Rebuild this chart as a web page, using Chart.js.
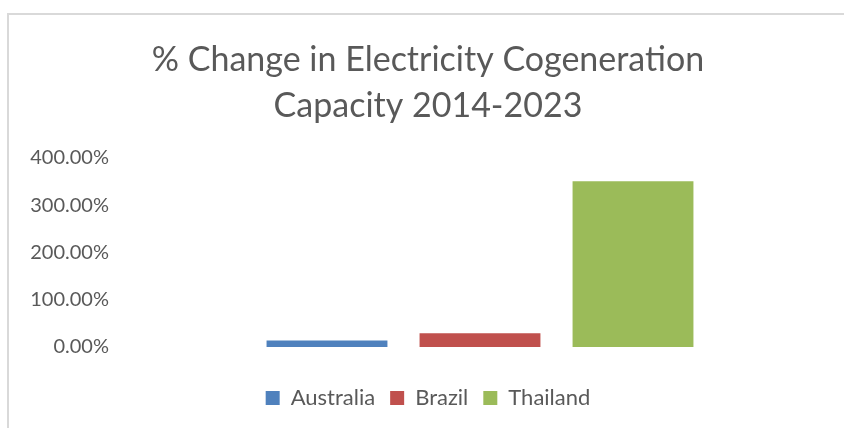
<!DOCTYPE html>
<html>
<head>
<meta charset="utf-8">
<script src="https://cdn.jsdelivr.net/npm/chart.js@4.4.0/dist/chart.umd.min.js"></script>
<style>
  html, body { margin: 0; padding: 0; background: #fff; overflow: hidden; }
  #wrap { position: relative; width: 844px; height: 428px; }
  #frame { position: absolute; left: 7px; top: 13px; width: 860px; height: 440px; border: 2px solid #d9d9d9; box-sizing: border-box; }
  canvas { position: absolute; left: 0; top: 0; }
</style>
</head>
<body>
<div id="wrap">
  <div id="frame"></div>
  <canvas id="chart" width="844" height="428"></canvas>
</div>
<script>
// values
const countries = ["Australia", "Brazil", "Thailand"];
const pctChange = [14, 29, 351];
const colours = ["#4f81bd", "#c0504d", "#9bbb59"];
const yTicks = [0, 100, 200, 300, 400];

const textColour = "#595959";
const fontName = "Lato";

const datasets = countries.map((c, i) => ({
  label: c,
  data: [pctChange[i]],
  backgroundColor: colours[i],
  borderWidth: 0,
  categoryPercentage: 0.634,
  barPercentage: 0.79
}));

new Chart(document.getElementById("chart"), {
  type: "bar",
  data: { labels: [""], datasets: datasets },
  options: {
    responsive: false,
    animation: false,
    layout: { padding: { left: 14, right: 2, top: 0, bottom: 9 } },
    plugins: {
      title: {
        display: true,
        text: ["% Change in Electricity Cogeneration", "Capacity 2014-2023"],
        color: textColour,
        font: { family: fontName, size: 34, weight: "normal", lineHeight: 1.353 },
        padding: { top: 37, bottom: 29 }
      },
      legend: {
        position: "bottom",
        labels: {
          color: textColour,
          font: { family: fontName, size: 22 },
          boxWidth: 14,
          boxHeight: 14,
          padding: 15
        }
      },
      tooltip: { enabled: false }
    },
    scales: {
      x: {
        grid: { display: false, drawTicks: false },
        border: { display: false },
        ticks: { display: false },
        afterFit: s => { s.height = 25; }
      },
      y: {
        min: 0,
        max: 400,
        afterBuildTicks: s => { s.ticks = yTicks.map(v => ({ value: v })); },
        afterFit: s => { s.width = 104; },
        grid: { display: false, drawTicks: false },
        border: { display: false },
        ticks: {
          color: textColour,
          padding: 9,
          font: { family: fontName, size: 20 },
          callback: v => v.toFixed(2) + "%"
        }
      }
    }
  }
});
</script>
</body>
</html>
